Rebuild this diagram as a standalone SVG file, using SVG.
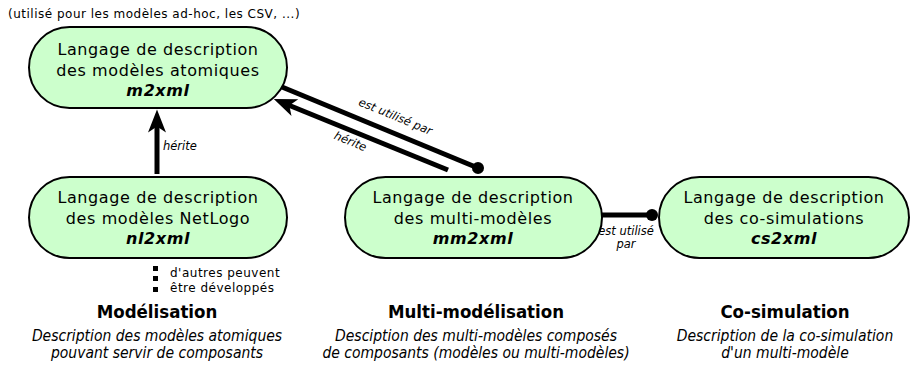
<svg xmlns="http://www.w3.org/2000/svg" width="912" height="367" viewBox="0 0 912 367">
<style>
.node{fill:#ccffcc;stroke:#000;stroke-width:2}
.nt{font-family:"DejaVu Sans",Verdana,sans-serif;font-size:16px;letter-spacing:0.6px;fill:#000;text-anchor:middle}
.nb{font-family:"DejaVu Sans",Verdana,sans-serif;font-size:16px;letter-spacing:0.6px;font-weight:bold;font-style:italic;fill:#000;text-anchor:middle}
.conn{stroke:#000;stroke-width:5;fill:none}
.lbl{font-family:"DejaVu Sans",Verdana,sans-serif;font-size:11.5px;font-style:italic;fill:#000}
.note{font-family:"DejaVu Sans",Verdana,sans-serif;font-size:12px;letter-spacing:0.5px;fill:#000}
.hd{font-family:"DejaVu Sans Condensed","DejaVu Sans",sans-serif;font-size:18.5px;font-weight:bold;fill:#000;text-anchor:middle}
.ds{font-family:"DejaVu Sans Condensed","DejaVu Sans",sans-serif;font-size:15.5px;font-style:italic;fill:#000;text-anchor:middle}
</style>
<defs>
<marker id="arr" markerUnits="userSpaceOnUse" markerWidth="30" markerHeight="30" viewBox="-10 -10 25 20" refX="0" refY="0" orient="auto" overflow="visible">
<path d="M12,0 L-7,-7.5 L-2,0 L-7,7.5 Z" fill="#000"/>
</marker>
<marker id="dot" markerUnits="userSpaceOnUse" markerWidth="16" markerHeight="16" viewBox="-8 -8 16 16" refX="0" refY="0" orient="auto" overflow="visible">
<circle cx="0" cy="0" r="6" fill="#000"/>
</marker>
</defs>
<text class="note" x="8" y="18">(utilisé pour les modèles ad-hoc, les CSV, ...)</text>
<g id="connectors">
<line class="conn" x1="157" y1="174" x2="157" y2="124" marker-end="url(#arr)"/>
<text class="lbl" x="163" y="150">hérite</text>
<line class="conn" x1="282" y1="87" x2="478" y2="168" marker-end="url(#dot)"/>
<text class="lbl" transform="translate(394,120) rotate(22.5)" text-anchor="middle">est utilisé par</text>
<line class="conn" x1="448" y1="170" x2="287.1" y2="104.5" marker-end="url(#arr)"/>
<text class="lbl" transform="translate(349,145) rotate(22.5)" text-anchor="middle">hérite</text>
<line class="conn" x1="602" y1="215" x2="652" y2="215" marker-end="url(#dot)"/>
<text class="lbl" x="626" y="235" text-anchor="middle">est utilisé</text>
<text class="lbl" x="626" y="248" text-anchor="middle">par</text>
</g>
<g id="m2xml">
<rect class="node" x="29" y="27" width="258" height="81" rx="40.5"/>
<text class="nt" x="158" y="55">Langage de description</text>
<text class="nt" x="158" y="76">des modèles atomiques</text>
<text class="nb" x="158" y="96">m2xml</text>
</g>
<g id="nl2xml">
<rect class="node" x="29" y="177" width="258" height="81" rx="40.5"/>
<text class="nt" x="158" y="203">Langage de description</text>
<text class="nt" x="158" y="224">des modèles NetLogo</text>
<text class="nb" x="158" y="244">nl2xml</text>
</g>
<g id="mm2xml">
<rect class="node" x="345" y="177" width="257" height="81" rx="40.5"/>
<text class="nt" x="473" y="203">Langage de description</text>
<text class="nt" x="473" y="224">des multi-modèles</text>
<text class="nb" x="473" y="244">mm2xml</text>
</g>
<g id="cs2xml">
<rect class="node" x="659" y="177" width="250" height="81" rx="40.5"/>
<text class="nt" x="784" y="203">Langage de description</text>
<text class="nt" x="784" y="224">des co-simulations</text>
<text class="nb" x="784" y="244">cs2xml</text>
</g>
<g id="others">
<rect x="153" y="266" width="5" height="5" fill="#000"/>
<rect x="153" y="276" width="5" height="5" fill="#000"/>
<rect x="153" y="287" width="5" height="5" fill="#000"/>
<text class="note" x="170" y="277">d'autres peuvent</text>
<text class="note" x="170" y="292">être développés</text>
</g>
<g id="legend">
<text class="hd" x="157" y="318">Modélisation</text>
<text class="ds" x="157" y="341">Description des modèles atomiques</text>
<text class="ds" x="157" y="358">pouvant servir de composants</text>
<text class="hd" x="476" y="318">Multi-modélisation</text>
<text class="ds" x="476" y="341">Desciption des multi-modèles composés</text>
<text class="ds" x="476" y="358">de composants (modèles ou multi-modèles)</text>
<text class="hd" x="785" y="318">Co-simulation</text>
<text class="ds" x="785" y="341">Description de la co-simulation</text>
<text class="ds" x="785" y="358">d'un multi-modèle</text>
</g>
</svg>
